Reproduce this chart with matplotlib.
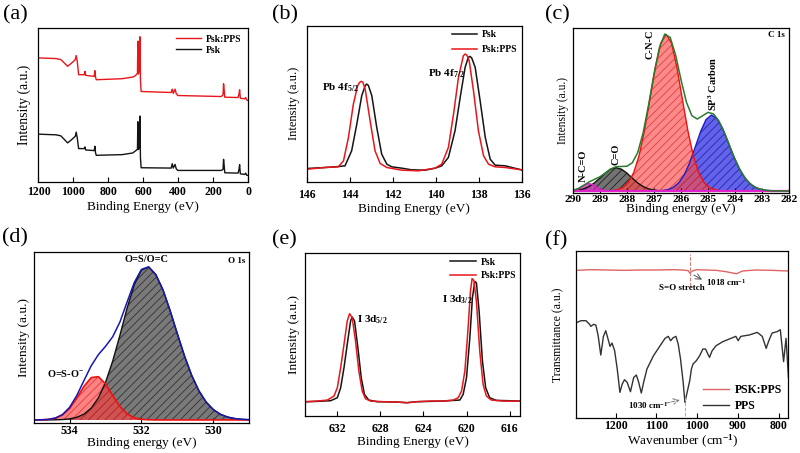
import matplotlib
matplotlib.use('Agg')
import matplotlib.pyplot as plt
import numpy as np

plt.rcParams['font.family'] = ['Liberation Serif', 'DejaVu Serif']
plt.rcParams['font.weight'] = 'bold'
plt.rcParams['mathtext.fontset'] = 'custom'
plt.rcParams['mathtext.rm'] = 'Liberation Serif:bold'
plt.rcParams['mathtext.it'] = 'Liberation Serif:italic:bold'
plt.rcParams['mathtext.bf'] = 'Liberation Serif:bold'
plt.rcParams['hatch.linewidth'] = 0.6
plt.rcParams['axes.linewidth'] = 0.9

# ---------------- (a) survey spectra ----------------
a_be = [1200, 1100, 1072, 1033, 1005, 989, 984, 978, 970, 938,
        934, 930, 881, 877, 873, 869, 721, 660, 645, 640,
        633, 631, 628, 622, 619, 616, 612, 440, 434, 428,
        418, 411, 402, 153, 143, 140, 136, 133, 57, 52,
        48, 44, 19, 13, 8, 0]
a_pps = [368, 366, 363, 343, 355, 363, 375, 358, 318, 318,
         328, 316, 313, 330, 310, 303, 306, 311, 315, 318,
         322, 418, 320, 330, 431, 300, 268, 265, 275, 262,
         275, 262, 256, 253, 258, 291, 270, 251, 250, 260,
         273, 248, 246, 250, 243, 241]
a_psk = [141, 139, 136, 115, 127, 135, 147, 130, 98, 98,
         103, 94, 92, 105, 85, 78, 80, 85, 91, 93,
         96, 178, 95, 100, 195, 70, 41, 40, 53, 40,
         51, 38, 33, 33, 36, 66, 45, 26, 25, 35,
         50, 23, 21, 25, 19, 18]

# ---------------- (b) Pb 4f ----------------
b_psk_x = [146.00, 145.16, 144.69, 144.23, 143.92, 143.68, 143.45, 143.29, 143.22, 143.14,
           142.98, 142.75, 142.52, 142.28, 142.05, 141.58, 141.12, 140.49, 140.03, 139.72,
           139.41, 139.10, 138.86, 138.63, 138.48, 138.40, 138.32, 138.16, 137.93, 137.69,
           137.46, 137.23, 136.76, 136.45, 136.00]
b_psk_y = [39, 42, 44, 47, 92, 172, 257, 287, 292, 288,
           257, 162, 82, 52, 44, 40, 35, 34, 40, 47,
           72, 152, 252, 342, 372, 375, 370, 342, 242, 132,
           67, 49, 47, 42, 35]
b_pps_x = [146.00, 145.16, 144.54, 144.30, 144.07, 143.84, 143.64, 143.55, 143.48, 143.40,
           143.29, 143.06, 142.83, 142.59, 142.28, 141.58, 140.81, 140.03, 139.72, 139.41,
           139.17, 138.94, 138.71, 138.63, 138.55, 138.44, 138.24, 138.01, 137.77, 137.54,
           137.23, 136.76, 136.00]
b_pps_y = [37, 42, 44, 62, 132, 232, 287, 297, 300, 298,
           277, 182, 92, 54, 42, 34, 32, 40, 52, 102,
           202, 312, 377, 382, 379, 362, 272, 152, 77, 52,
           44, 42, 35]

# ---------------- (c) C 1s fit ----------------
C_BASE = 5
c_nco_x = [290.0, 289.9, 289.8, 289.7, 289.6, 289.5, 289.4, 289.3, 289.2, 289.1,
           289.0, 288.9, 288.8, 288.7, 288.6]
c_nco_y = [1.2, 3.0, 6.1, 10.7, 16.0, 20.3, 22.0, 20.3, 16.0, 10.7,
           6.1, 3.0, 1.2, 0.4, 0.1]
c_co_x = [290.0, 289.8, 289.6, 289.4, 289.2, 289.0, 288.8, 288.6, 288.4, 288.2,
          288.0, 287.8, 287.6, 287.4, 287.2, 287.0, 286.8, 286.6]
c_co_y = [1.0, 2.7, 6.5, 13.4, 24.3, 38.6, 53.7, 65.5, 70.0, 65.5,
          53.7, 38.6, 24.3, 13.4, 6.5, 2.7, 1.0, 0.3]
c_cnc_x = [288.55, 288.35, 288.15, 287.95, 287.75, 287.55, 287.35, 287.15, 286.95, 286.75,
           286.55, 286.35, 286.15, 285.95, 285.75, 285.55, 285.35, 285.15, 284.95, 284.75,
           284.55]
c_cnc_y = [1.2, 3.8, 10.4, 25.5, 55, 106, 182, 275, 370, 443,
           470, 443, 370, 275, 182, 106, 55, 25.5, 10.4, 3.8,
           1.2]
c_sp3_x = [286.88, 286.68, 286.48, 286.28, 286.08, 285.88, 285.68, 285.48, 285.28, 285.08,
           284.88, 284.68, 284.48, 284.28, 284.08, 283.88, 283.68, 283.48, 283.28, 283.08,
           282.88, 282.68]
c_sp3_y = [0.5, 1.6, 4.4, 11.2, 24.9, 49, 85, 131, 178, 214,
           228, 218, 190, 151, 109, 72, 44, 24, 12, 5.5,
           2.3, 0.9]
c_env_x = [290.0, 289.8, 289.6, 289.4, 289.2, 289.0, 288.8, 288.6, 288.4, 288.2,
           288.0, 287.8, 287.6, 287.4, 287.2, 287.0, 286.8, 286.6, 286.4, 286.2,
           286.0, 285.8, 285.6, 285.4, 285.2, 285.0, 284.8, 284.6, 284.4, 284.2,
           284.0, 283.8, 283.6, 283.4, 283.2, 283.0, 282.8, 282.6, 282.4, 282.2,
           282.0]
c_env_y = [7.2, 12.5, 22.0, 32.0, 40.0, 47.5, 58.5, 71.0, 77.9, 78.7,
           79.3, 89.6, 120.3, 179.4, 262.5, 355.7, 434.8, 475.7, 465.5, 412.6,
           338.0, 271.0, 231.0, 221.0, 231.0, 241.0, 236.0, 214.7, 180.5, 139.0,
           99.0, 65.0, 40.0, 23.5, 13.9, 8.9, 6.6, 5.6, 5.2, 5.0,
           5.0]

# ---------------- (d) O 1s fit ----------------
D_BASE = 10
d_x = [535.0, 534.8, 534.6, 534.4, 534.2, 534.0, 533.8, 533.6, 533.4, 533.2,
       533.0, 532.8, 532.6, 532.4, 532.2, 532.0, 531.8, 531.6, 531.4, 531.2,
       531.0, 530.8, 530.6, 530.4, 530.2, 530.0, 529.8, 529.6, 529.4, 529.2,
       529.0]
d_osoc_y = [0.0, 0.0, 0.1, 0.4, 1.2, 3.3, 7.9, 17.4, 35.4, 66,
            113, 177, 254, 336, 406, 450, 459, 436, 390, 327,
            258, 191, 133, 87, 53.5, 30.9, 16.7, 8.5, 4.1, 1.8,
            0.8]
d_oso_y = [0.0, 0.3, 1.5, 5.2, 14.8, 34.6, 65.6, 101, 127, 130,
           108, 72.8, 40, 17.9, 6.5, 1.9, 0.5, 0, 0, 0,
           0, 0, 0, 0, 0, 0, 0, 0, 0, 0,
           0]
d_env_y = [10.0, 10.3, 11.6, 15.6, 26.0, 47.9, 83.5, 128.4, 172.4, 206,
           231, 259.8, 304, 363.9, 422.5, 461.9, 469.5, 446, 400, 337,
           268, 201, 143, 97, 63.5, 40.9, 26.7, 18.5, 14.1, 11.8,
           10.8]

# ---------------- (e) I 3d ----------------
e_psk_x = [634.89, 633.85, 632.62, 632.00, 631.69, 631.38, 631.08, 630.77, 630.62, 630.40,
           630.09, 629.78, 629.48, 629.08, 628.31, 626.46, 625.54, 624.62, 622.15, 620.62,
           620.31, 620.00, 619.69, 619.45, 619.23, 619.08, 618.83, 618.52, 618.22, 617.85,
           617.23, 615.02]
e_psk_y = [42, 43, 45, 54, 84, 144, 214, 284, 296, 284,
           204, 114, 64, 47, 42, 41, 39, 42, 44, 47,
           64, 114, 234, 354, 402, 399, 314, 164, 84, 54,
           46, 44]
e_pps_x = [634.89, 633.85, 632.92, 632.31, 632.00, 631.69, 631.38, 631.08, 630.86, 630.62,
           630.31, 630.00, 629.69, 629.38, 628.92, 627.69, 626.46, 625.54, 624.62, 623.38,
           622.15, 621.23, 620.77, 620.46, 620.15, 619.85, 619.63, 619.48, 619.32, 619.08,
           618.77, 618.46, 618.15, 617.69, 616.62, 615.02]
e_pps_y = [42, 44, 47, 59, 84, 144, 214, 284, 306, 294,
           224, 134, 74, 51, 44, 42, 41, 39, 42, 44,
           44, 47, 54, 74, 134, 264, 374, 411, 406, 344,
           194, 94, 59, 47, 44, 44]

# ---------------- (f) FTIR ----------------
f_pps_x = [1294.5, 1284.8, 1272.7, 1264.6, 1260.6, 1254.1, 1248.5, 1242.8, 1236.4, 1229.9,
           1224.2, 1218.6, 1213.7, 1208.9, 1202.4, 1196.0, 1189.5, 1183.8, 1178.2, 1171.7,
           1163.6, 1155.6, 1149.1, 1143.4, 1137.0, 1131.3, 1123.2, 1107.1, 1090.9, 1078.8,
           1070.7, 1065.1, 1058.6, 1052.1, 1046.5, 1040.8, 1034.3, 1030.0, 1024.6, 1018.2,
           1014.1, 1010.1, 1002.0, 993.9, 985.9, 979.4, 973.7, 969.7, 963.2, 953.5,
           937.4, 921.2, 905.1, 899.4, 892.9, 872.7, 852.5, 840.4, 830.7, 824.2,
           816.2, 804.0, 796.0, 788.0, 782.0, 776.0]
f_pps_y = [286, 291, 291, 281, 274, 280, 278, 246, 188, 244,
           261, 236, 214, 224, 201, 146, 76, 101, 114, 106,
           78, 121, 128, 106, 74, 106, 146, 186, 216, 238,
           244, 231, 240, 244, 221, 176, 106, 46, 76, 111,
           146, 161, 171, 186, 206, 206, 191, 181, 201, 216,
           228, 236, 244, 231, 244, 248, 256, 244, 208, 231,
           254, 258, 264, 168, 238, 120]
f_psk_x = [1294.5, 1260.6, 1220.2, 1179.8, 1139.4, 1099.0, 1058.6, 1034.3, 1022.2, 1018.0,
           1012.0, 1002.0, 977.8, 953.5, 929.3, 909.1, 903.0, 888.9, 856.6, 816.2,
           776.0]
f_psk_y = [442, 444, 443, 442, 443, 443, 444, 443, 441, 434,
           440, 444, 443, 442, 438, 433, 432, 440, 443, 442,
           440]

RED = '#e8161b'
BLACK = '#141414'


def setup(ax, xlim, ylim, ticks, xlabel, ylabel, ysize=9.5, ypad=2,
          tpad=2.5, xpad=0.5, tsize=8.5):
    ax.set_xlim(*xlim)
    ax.set_ylim(*ylim)
    ax.set_xticks(ticks)
    ax.set_yticks([])
    ax.tick_params(axis='x', direction='in', length=3.5, width=0.8,
                   labelsize=tsize, pad=tpad)
    ax.set_xlabel(xlabel, fontsize=9.5, labelpad=xpad)
    ax.set_ylabel(ylabel, fontsize=ysize, labelpad=ypad)


fig = plt.figure(figsize=(8, 4.53), dpi=100)

ax_a = fig.add_axes([0.0481, 0.5993, 0.2619, 0.3389])
ax_b = fig.add_axes([0.3838, 0.5993, 0.2681, 0.3433])
ax_c = fig.add_axes([0.7159, 0.5746, 0.2708, 0.3629])
ax_d = fig.add_axes([0.0421, 0.0656, 0.2695, 0.3788])
ax_e = fig.add_axes([0.3813, 0.0823, 0.2691, 0.3585])
ax_f = fig.add_axes([0.7206, 0.0779, 0.2650, 0.3680])

# (a)
ax_a.plot(a_be, a_pps, color=RED, lw=1.0, label='Psk:PPS')
ax_a.plot(a_be, a_psk, color=BLACK, lw=1.0, label='Psk')
setup(ax_a, (1200, 0), (0, 457), [1200, 1000, 800, 600, 400, 200, 0],
      'Binding Energy (eV)', 'Intensity (a.u.)', ysize=9.8, ypad=5.5,
      tpad=3.5, xpad=1.9)
ax_a.legend(loc='upper right', frameon=False, fontsize=7, handlelength=2.6,
            labelspacing=0.2, borderaxespad=0.3, handletextpad=0.5)

# (b)
ax_b.plot(b_psk_x, b_psk_y, color=BLACK, lw=1.1, label='Psk')
ax_b.plot(b_pps_x, b_pps_y, color=RED, lw=1.1, label='Psk:PPS')
setup(ax_b, (146, 136), (0, 466), [146, 144, 142, 140, 138, 136],
      'Binding Energy (eV)', 'Intensity (a.u.)', ysize=9.0, ypad=5,
      tpad=5.5, xpad=1.4)
ax_b.legend(loc='upper right', frameon=False, fontsize=7, handlelength=2.6,
            labelspacing=0.6, borderaxespad=0.05, handletextpad=0.5)
ax_b.text(145.28, 282, r'Pb 4f$_{\mathrm{5/2}}$', fontsize=8, va='center')
ax_b.text(140.34, 322, r'Pb 4f$_{\mathrm{7/2}}$', fontsize=8, va='center')

# (c)
def comp(ax, x, y, base, face, hatchc, line, alpha):
    top = np.array(y) + base
    ax.fill_between(x, base, top, facecolor=face, edgecolor=hatchc,
                    hatch='////', linewidth=0, alpha=alpha)
    ax.plot(x, top, color=line, lw=1.0)

comp(ax_c, c_sp3_x, c_sp3_y, C_BASE, '#4646e8', '#1c1c9a', '#2020c8', 0.85)
comp(ax_c, c_co_x, c_co_y, C_BASE, '#5a5a5a', '#111111', '#111111', 0.85)
comp(ax_c, c_nco_x, c_nco_y, C_BASE, '#d63cc0', '#8a1a7a', '#e020c8', 0.8)
comp(ax_c, c_cnc_x, c_cnc_y, C_BASE, '#ff4a4a', '#b82020', '#ee1111', 0.65)
ax_c.axhline(C_BASE, color='#e020c8', lw=1.6)
ax_c.plot(c_env_x, c_env_y, color='#2a7a2a', lw=1.1)
setup(ax_c, (290, 282), (0, 493), [290, 289, 288, 287, 286, 285, 284, 283, 282],
      'Binding energy (eV)', 'Intensity (a.u.)', ysize=8.3, ypad=3,
      tpad=1.5, xpad=-0.3, tsize=8.2)
ax_c.text(282.15, 486, 'C 1s', fontsize=6.5, ha='right', va='top')
ax_c.text(289.6, 32, 'N-C=O', fontsize=7.5, rotation=90, ha='center', va='bottom')
ax_c.text(288.42, 84, 'C=O', fontsize=7.5, rotation=90, ha='center', va='bottom')
ax_c.text(287.13, 490, 'C-N-C', fontsize=7.5, rotation=90, ha='center', va='top')
ax_c.text(284.81, 246, r'SP$^{3}$ Carbon', fontsize=7.5, rotation=90, ha='center', va='bottom')

# (d)
d_osoc_top = np.array(d_osoc_y) + D_BASE
d_oso_top = np.array(d_oso_y) + D_BASE
ax_d.fill_between(d_x, D_BASE, d_osoc_top, facecolor='#6a6a6a', edgecolor='#2a2a2a',
                  hatch='////', linewidth=0, alpha=0.9)
ax_d.plot(d_x, d_osoc_top, color='#111111', lw=1.0)
ax_d.fill_between(d_x, D_BASE, d_oso_top, facecolor='#ff4040', edgecolor='#c01818',
                  hatch='////', linewidth=0, alpha=0.65)
ax_d.plot(d_x, d_oso_top, color='#ee1111', lw=1.2)
ax_d.plot(d_x, d_env_y, color='#1818b0', lw=1.1)
setup(ax_d, (535, 529), (0, 515), [534, 532, 530],
      'Binding energy (eV)', 'Intensity (a.u.)', ysize=9.6, ypad=2.5,
      tpad=1.5, xpad=-0.3)
ax_d.text(529.1, 500, 'O 1s', fontsize=6.5, ha='right', va='top')
ax_d.text(531.87, 478, 'O=S/O=C', fontsize=7.5, ha='center', va='bottom')
ax_d.text(534.64, 150, r'O=S-O$^{-}$', fontsize=7.5, ha='left', va='center')

# (e)
ax_e.plot(e_psk_x, e_psk_y, color=BLACK, lw=1.1, label='Psk')
ax_e.plot(e_pps_x, e_pps_y, color=RED, lw=1.1, label='Psk:PPS')
setup(ax_e, (635, 615), (0, 487), [632, 628, 624, 620, 616],
      'Binding Energy (eV)', 'Intensity (a.u.)', ysize=9.6, ypad=3.5,
      tpad=5, xpad=0.8)
ax_e.legend(loc='upper right', frameon=False, fontsize=7, handlelength=2.6,
            labelspacing=0.45, borderaxespad=0.05, handletextpad=0.5)
ax_e.text(630.15, 289, r'I 3d$_{\mathrm{5/2}}$', fontsize=8, va='center')
ax_e.text(622.3, 349, r'I 3d$_{\mathrm{3/2}}$', fontsize=8, va='center')

# (f)
ax_f.plot(f_psk_x, f_psk_y, color='#e06464', lw=1.0, label='PSK:PPS')
ax_f.plot(f_pps_x, f_pps_y, color='#333333', lw=1.0, label='PPS')
setup(ax_f, (1296, 776), (0, 500), [1200, 1100, 1000, 900, 800],
      r'Wavenumber (cm$^{-1}$)', 'Transmittance (a.u.)', ysize=8.5, ypad=9,
      tpad=2, xpad=0.2)
ax_f.plot([1018, 1018], [396, 491], ls='--', color='#e07070', lw=0.7)
ax_f.annotate('', xy=(982, 410), xytext=(1014, 432),
              arrowprops=dict(arrowstyle='->', color='#555555', lw=0.7))
ax_f.text(978, 406, r'1018 cm$^{-1}$', fontsize=6.5, ha='left', va='center')
ax_f.text(1038, 388, 'S=O stretch', fontsize=6.5, ha='center', va='center')
ax_f.plot([1030, 1030], [6, 66], ls='--', color='#aaaaaa', lw=0.7)
ax_f.annotate('', xy=(1036, 55), xytext=(1082, 42),
              arrowprops=dict(arrowstyle='->', color='#777777', lw=0.7, ls='--'))
ax_f.text(1119, 36, r'1030 cm$^{-1}$', fontsize=6.5, ha='center', va='center')
ax_f.legend(loc='lower right', frameon=False, fontsize=8.5, handlelength=2.2,
            labelspacing=0.3, borderaxespad=0.1, handletextpad=0.5)

# panel letters
for lx, ly, lab in [(3, 5, '(a)'), (272, 5, '(b)'), (545, 5, '(c)'),
                    (2, 228, '(d)'), (272, 230, '(e)'), (545, 231, '(f)')]:
    fig.text(lx / 800, 1 - ly / 453, lab, fontsize=16, fontweight='normal',
             ha='left', va='top')

fig.savefig('out.png', dpi=100)
